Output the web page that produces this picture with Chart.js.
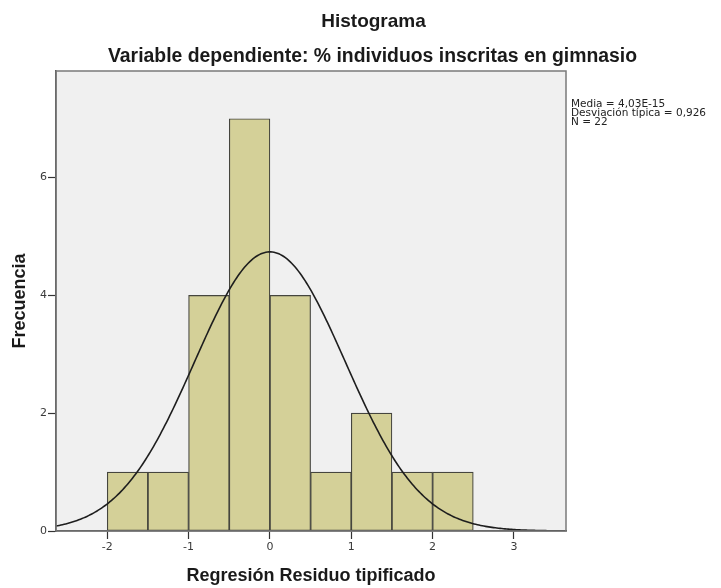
<!DOCTYPE html>
<html>
<head>
<meta charset="utf-8">
<script src="https://cdn.jsdelivr.net/npm/chart.js@4.4.0/dist/chart.umd.min.js"></script>
<style>
  html, body { margin: 0; padding: 0; background: #ffffff; }
  #wrap { width: 721px; height: 588px; }
</style>
</head>
<body>
<div id="wrap"><canvas id="c" width="721" height="588"></canvas></div>
<script>
// Histogram bins (centres) and counts
const binCenters = [-1.75, -1.25, -0.75, -0.25, 0.25, 0.75, 1.25, 1.75, 2.25];
const frequencies = [1, 1, 4, 7, 4, 1, 2, 1, 1];
const binWidth = 0.5;

// Axis ticks
const xTicks = [-2, -1, 0, 1, 2, 3];
const yTicks = [0, 2, 4, 6];

// Summary statistics of the standardized residuals
const media = 4.03e-15;
const desviacion = 0.926;
const nCasos = 22;
const statsLines = ['Media = 4,03E-15', 'Desviación típica = 0,926', 'N = 22'];

const titulo = 'Histograma';
const subtitulo = 'Variable dependiente: % individuos inscritas en gimnasio';
const tituloX = 'Regresión Residuo tipificado';
const tituloY = 'Frecuencia';

const xMin = -2.63, xMax = 3.64, yMax = 7.81;

// Normal curve scaled to the histogram (N * bin width * density)
const curve = [];
for (let x = xMin; x <= xMax + 1e-9; x += 0.02) {
  const z = (x - media) / desviacion;
  const y = nCasos * binWidth * Math.exp(-0.5 * z * z) / (desviacion * Math.sqrt(2 * Math.PI));
  curve.push({ x: x, y: y });
}

const bars = binCenters.map((c, i) => ({ x: c, y: frequencies[i] }));

const TITLE_FONT = 'bold 19px "Liberation Sans", Arial, sans-serif';
const SUBTITLE_FONT = 'bold 19.4px "Liberation Sans", Arial, sans-serif';
const STATS_FONT = '10.5px "DejaVu Sans", Verdana, sans-serif';

const decor = {
  id: 'decor',
  beforeDraw(chart) {
    const { ctx, chartArea: a } = chart;
    ctx.save();
    ctx.fillStyle = '#f0f0f0';
    ctx.fillRect(a.left, a.top, a.right - a.left, a.bottom - a.top);
    ctx.restore();
  },
  afterDatasetsDraw(chart) {
    const { ctx, chartArea: a } = chart;
    ctx.save();
    ctx.strokeStyle = '#7a7a7a';
    ctx.lineWidth = 1.5;
    ctx.strokeRect(a.left, a.top, a.right - a.left, a.bottom - a.top);
    ctx.restore();
  },
  afterDraw(chart) {
    const { ctx, chartArea: a } = chart;
    ctx.save();
    ctx.fillStyle = '#1a1a1a';
    ctx.textAlign = 'center';
    ctx.textBaseline = 'alphabetic';
    ctx.font = TITLE_FONT;
    ctx.fillText(titulo, 373.5, 26.7);
    ctx.font = SUBTITLE_FONT;
    ctx.fillText(subtitulo, 372.5, 62.3);
    ctx.font = STATS_FONT;
    ctx.textAlign = 'left';
    ctx.fillStyle = '#222222';
    statsLines.forEach((s, i) => ctx.fillText(s, a.right + 5, 107 + i * 8.8));
    ctx.restore();
  }
};

new Chart(document.getElementById('c'), {
  data: {
    datasets: [
      {
        type: 'line',
        data: curve,
        borderColor: '#1e1e1e',
        borderWidth: 1.6,
        pointRadius: 0,
        tension: 0,
        fill: false,
        order: 1
      },
      {
        type: 'bar',
        data: bars,
        backgroundColor: '#d4d098',
        borderColor: '#45453e',
        borderWidth: 1.2,
        borderSkipped: false,
        barPercentage: 1,
        categoryPercentage: 1,
        order: 2
      }
    ]
  },
  options: {
    responsive: false,
    animation: false,
    devicePixelRatio: 1,
    layout: { padding: { top: 71, right: 155, left: 0, bottom: 0 } },
    plugins: {
      legend: { display: false },
      tooltip: { enabled: false }
    },
    scales: {
      x: {
        type: 'linear',
        min: xMin,
        max: xMax,
        offset: false,
        z: 1,
        afterBuildTicks: s => { s.ticks = xTicks.map(v => ({ value: v })); },
        afterFit: s => { s.height = 57; },
        grid: { offset: false, drawOnChartArea: false, drawTicks: true, tickLength: 8, tickColor: '#333333', tickWidth: 1.2 },
        border: { display: true, color: '#3c3c3c', width: 1.5 },
        ticks: {
          autoSkip: false,
          maxRotation: 0,
          padding: 2,
          color: '#3a3a3a',
          font: { family: '"DejaVu Sans", Verdana, sans-serif', size: 11 }
        },
        title: {
          display: true,
          text: tituloX,
          color: '#1a1a1a',
          font: { family: '"Liberation Sans", Arial, sans-serif', size: 18, weight: 'bold' },
          padding: { top: 0, bottom: 1 }
        }
      },
      y: {
        type: 'linear',
        min: 0,
        max: yMax,
        z: 1,
        afterBuildTicks: s => { s.ticks = yTicks.map(v => ({ value: v })); },
        afterFit: s => { s.width = 56; },
        grid: { drawOnChartArea: false, drawTicks: true, tickLength: 8, tickColor: '#333333', tickWidth: 1.2 },
        border: { display: true, color: '#3c3c3c', width: 1.5 },
        ticks: {
          autoSkip: false,
          padding: 1,
          color: '#3a3a3a',
          font: { family: '"DejaVu Sans", Verdana, sans-serif', size: 11 }
        },
        title: {
          display: true,
          text: tituloY,
          color: '#1a1a1a',
          font: { family: '"Liberation Sans", Arial, sans-serif', size: 18, weight: 'bold' },
          padding: { top: 9, bottom: 0 }
        }
      }
    }
  },
  plugins: [decor]
});
</script>
</body>
</html>
